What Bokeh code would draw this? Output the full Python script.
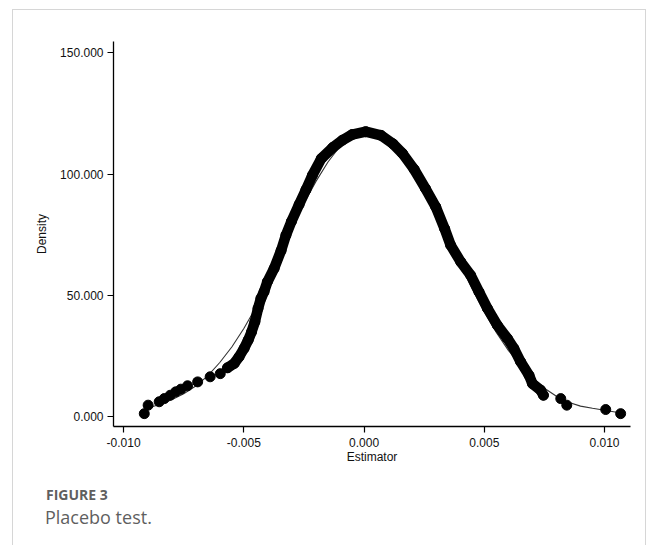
from bokeh.plotting import figure
from bokeh.layouts import column
from bokeh.models import Range1d, FixedTicker, NumeralTickFormatter, Div
from bokeh.embed import file_html
from bokeh.resources import INLINE

# Kernel density of placebo estimates (dots)
kde_x = [-0.00914, -0.00898, -0.00852, -0.00831, -0.00806, -0.00783, -0.00762, -0.00734,
         -0.00692, -0.00640, -0.00598, -0.00568, -0.00540, -0.00520, -0.00499, -0.00482,
         -0.00468, -0.00454, -0.00441, -0.00429, -0.00416, -0.00402, -0.00374, -0.00345,
         -0.00325, -0.00302, -0.00270, -0.00242, -0.00215, -0.00178, -0.00130, -0.00090,
         -0.00050, 0.00007, 0.00070, 0.00120, 0.00160, 0.00208, 0.00255, 0.00298,
         0.00335, 0.00360, 0.00402, 0.00443, 0.00478, 0.00513, 0.00554, 0.00596,
         0.00623, 0.00651, 0.00686, 0.00700, 0.00734, 0.00746, 0.00818, 0.00843,
         0.01005, 0.01067]
kde_y = [1.2, 4.7, 6.1, 7.4, 8.8, 10.2, 11.3, 12.7,
         14.3, 16.4, 17.7, 20.1, 21.9, 24.6, 28.1, 31.5,
         34.9, 39.1, 44.6, 48.7, 51.5, 55.6, 61.1, 68.5,
         74.8, 80.5, 87.5, 93.5, 99.5, 106.4, 111.0, 114.0,
         116.3, 117.5, 116.0, 112.5, 108.5, 102.0, 94.1, 86.5,
         77.5, 70.7, 63.8, 58.3, 51.4, 44.6, 37.7, 32.2,
         28.1, 22.6, 17.0, 13.6, 10.9, 8.8, 7.4, 4.7,
         2.9, 1.2]
# indices of the densely packed stretch of the dot band
dense_start, dense_end = 11, 53

# Normal density overlay (thin line)
norm_x = [-0.0091, -0.0085, -0.008, -0.0075, -0.007, -0.0065, -0.006, -0.0055, -0.005,
          -0.0045, -0.004, -0.0035, -0.003, -0.0025, -0.002, -0.0015, -0.001, -0.0005,
          0.0, 0.0005, 0.001, 0.0015, 0.002, 0.0025, 0.003, 0.0035, 0.004, 0.0045,
          0.005, 0.0055, 0.006, 0.0065, 0.007, 0.0075, 0.008, 0.0085, 0.009, 0.0095,
          0.010, 0.0105, 0.0107]
norm_y = [3.2, 5.0, 6.9, 9.4, 12.6, 16.8, 22.3, 28.7, 36.3,
          45.0, 55.5, 66.5, 77.5, 88.0, 97.0, 105.0, 111.5, 115.5,
          117.0, 116.5, 113.8, 108.8, 102.0, 94.0, 85.0, 74.0, 63.0, 52.6,
          43.2, 34.7, 27.3, 21.0, 15.8, 11.7, 8.4, 5.9, 4.3, 3.4,
          2.6, 1.8, 1.5]

x_ticks = [-0.010, -0.005, 0.0, 0.005, 0.010]
y_ticks = [0, 50, 100, 150]
caption_label = "FIGURE 3"
caption_text = "Placebo test."

p = figure(width=632, height=475, output_backend="svg", toolbar_location=None,
           x_range=Range1d(-0.01042, 0.01108), y_range=Range1d(-4.1, 154.7),
           min_border_left=100, min_border_right=15, min_border_top=31,
           min_border_bottom=59)

p.xgrid.visible = False
p.ygrid.visible = False
p.outline_line_color = None
p.background_fill_color = "white"
p.border_fill_color = "white"

tick_font = "Liberation Sans"
for ax in (p.xaxis[0], p.yaxis[0]):
    ax.axis_line_color = "black"
    ax.axis_line_width = 1.3
    ax.major_tick_line_color = "black"
    ax.major_tick_line_width = 1.2
    ax.major_tick_in = 0
    ax.major_tick_out = 6
    ax.minor_tick_line_color = None
    ax.major_label_text_font = tick_font
    ax.major_label_text_font_size = "12px"
    ax.major_label_text_color = "#111111"
    ax.axis_label_text_font = tick_font
    ax.axis_label_text_font_size = "12px"
    ax.axis_label_text_font_style = "normal"
    ax.axis_label_text_color = "#111111"

p.xaxis.ticker = FixedTicker(ticks=x_ticks)
p.yaxis.ticker = FixedTicker(ticks=y_ticks)
p.xaxis.formatter = NumeralTickFormatter(format="0.000")
p.yaxis.formatter = NumeralTickFormatter(format="0.000")
p.xaxis.major_label_standoff = 5
p.yaxis.major_label_standoff = 4
p.xaxis.axis_label = "Estimator"
p.yaxis.axis_label = "Density"
p.xaxis.axis_label_standoff = 0
p.yaxis.axis_label_standoff = 8

# normal density
p.line(norm_x, norm_y, line_color="#333333", line_width=1.1)
# dense stretch of the dot band
p.line(kde_x[dense_start:dense_end + 1], kde_y[dense_start:dense_end + 1],
       line_color="black", line_width=10.5, line_join="round", line_cap="round")
# dots
p.scatter(kde_x, kde_y, size=10, fill_color="black", line_color="black")

caption_html = (
    "<div style=\"padding-left:33px;font-family:'Open Sans';color:#5f5f5f;\">"
    "<div style=\"font-size:14px;font-weight:bold;line-height:20px;\">"
    + caption_label + "</div>"
    "<div style=\"font-size:18px;font-weight:normal;line-height:25px;margin-left:-1px;\">"
    + caption_text + "</div></div>"
)
cap = Div(text=caption_html, width=632, height=60)
cap.margin = 0

page = column(p, cap, spacing=0)
page.styles = {"border-top": "1px solid #d6d6d6", "border-left": "1px solid #d6d6d6",
               "border-right": "1px solid #d6d6d6"}
page.margin = (9, 0, 0, 12)

open("out.html", "w").write(file_html(page, INLINE))
